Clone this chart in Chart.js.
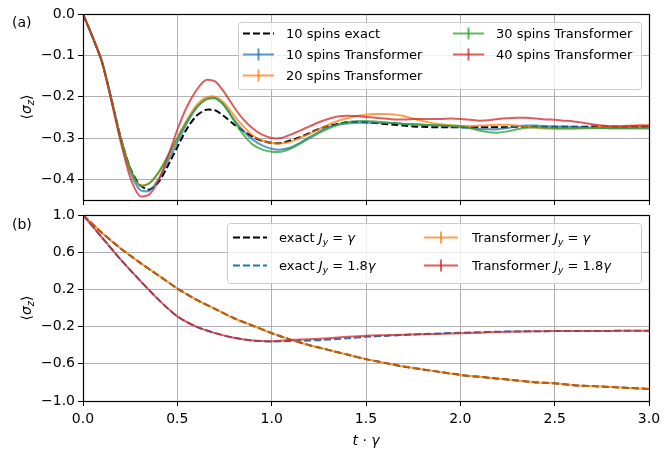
<!DOCTYPE html>
<html>
<head>
<meta charset="utf-8">
<script src="https://cdn.jsdelivr.net/npm/chart.js@4.4.1/dist/chart.umd.min.js"></script>
<style>
  body { margin: 0; background: #fff; }
  #wrap { position: relative; width: 671px; height: 452px; }
  canvas { position: absolute; left: 0; }
</style>
</head>
<body>
<div id="wrap">
  <canvas id="chartA" width="671" height="205" style="top:0px"></canvas>
  <canvas id="chartB" width="671" height="247" style="top:205px"></canvas>
</div>
<script>
// ---- données ----
const timesA = [0, 0.05, 0.1, 0.15, 0.2, 0.25, 0.3, 0.35, 0.4, 0.45, 0.5, 0.55, 0.6, 0.65, 0.7, 0.75, 0.8, 0.85, 0.9, 0.95,
  1.0, 1.05, 1.1, 1.15, 1.2, 1.25, 1.3, 1.35, 1.4, 1.45, 1.5, 1.55, 1.6, 1.65, 1.7, 1.75, 1.8, 1.85, 1.9, 1.95,
  2.0, 2.05, 2.1, 2.15, 2.2, 2.25, 2.3, 2.35, 2.4, 2.45, 2.5, 2.55, 2.6, 2.65, 2.7, 2.75, 2.8, 2.85, 2.9, 2.95, 3.0];

const exact10 = [0, -0.055, -0.115, -0.205, -0.30, -0.373, -0.413, -0.425, -0.407, -0.367, -0.322, -0.278, -0.247, -0.232, -0.233, -0.248, -0.267, -0.283, -0.297, -0.307,
  -0.312, -0.312, -0.306, -0.298, -0.288, -0.278, -0.271, -0.266, -0.262, -0.261, -0.262, -0.264, -0.266, -0.268, -0.270, -0.272, -0.273, -0.274, -0.274, -0.274,
  -0.274, -0.274, -0.274, -0.274, -0.274, -0.274, -0.273, -0.273, -0.273, -0.273, -0.273, -0.273, -0.273, -0.273, -0.272, -0.272, -0.272, -0.272, -0.272, -0.272, -0.272];

const trans10 = [0, -0.055, -0.115, -0.205, -0.302, -0.38, -0.425, -0.428, -0.400, -0.357, -0.310, -0.265, -0.228, -0.206, -0.203, -0.222, -0.255, -0.283, -0.304, -0.318,
  -0.326, -0.328, -0.323, -0.312, -0.298, -0.285, -0.274, -0.268, -0.265, -0.263, -0.263, -0.263, -0.264, -0.264, -0.266, -0.267, -0.268, -0.269, -0.270, -0.272,
  -0.274, -0.276, -0.278, -0.279, -0.279, -0.276, -0.272, -0.270, -0.270, -0.271, -0.272, -0.272, -0.273, -0.274, -0.275, -0.276, -0.276, -0.276, -0.276, -0.275, -0.275];

const trans20 = [0, -0.055, -0.115, -0.205, -0.300, -0.375, -0.414, -0.410, -0.385, -0.345, -0.300, -0.257, -0.222, -0.202, -0.200, -0.216, -0.245, -0.272, -0.294, -0.306,
  -0.312, -0.313, -0.309, -0.300, -0.290, -0.279, -0.268, -0.259, -0.252, -0.247, -0.244, -0.242, -0.242, -0.243, -0.247, -0.253, -0.259, -0.264, -0.267, -0.270,
  -0.271, -0.271, -0.270, -0.269, -0.268, -0.268, -0.270, -0.273, -0.275, -0.277, -0.278, -0.278, -0.278, -0.277, -0.275, -0.273, -0.272, -0.271, -0.270, -0.270, -0.270];

const trans30 = [0, -0.055, -0.115, -0.205, -0.300, -0.373, -0.415, -0.410, -0.383, -0.343, -0.300, -0.260, -0.227, -0.208, -0.204, -0.222, -0.258, -0.292, -0.316, -0.328,
  -0.333, -0.333, -0.326, -0.314, -0.301, -0.288, -0.277, -0.268, -0.262, -0.259, -0.259, -0.260, -0.262, -0.264, -0.266, -0.267, -0.268, -0.269, -0.270, -0.270,
  -0.271, -0.276, -0.282, -0.286, -0.287, -0.284, -0.279, -0.275, -0.274, -0.275, -0.276, -0.276, -0.276, -0.276, -0.276, -0.276, -0.277, -0.277, -0.277, -0.277, -0.277];

const trans40 = [0, -0.055, -0.115, -0.21, -0.31, -0.395, -0.44, -0.437, -0.403, -0.345, -0.280, -0.225, -0.185, -0.160, -0.163, -0.19, -0.225, -0.255, -0.277, -0.292,
  -0.300, -0.300, -0.292, -0.282, -0.272, -0.262, -0.254, -0.248, -0.246, -0.247, -0.249, -0.251, -0.253, -0.255, -0.255, -0.254, -0.254, -0.254, -0.254, -0.253,
  -0.254, -0.256, -0.258, -0.257, -0.254, -0.252, -0.251, -0.251, -0.253, -0.255, -0.256, -0.258, -0.260, -0.263, -0.267, -0.270, -0.272, -0.272, -0.271, -0.270, -0.270];

const timesB = [0, 0.1, 0.2, 0.3, 0.4, 0.5, 0.6, 0.7, 0.8, 0.9, 1.0, 1.1, 1.2, 1.3, 1.4, 1.5, 1.6, 1.7, 1.8, 1.9,
  2.0, 2.1, 2.2, 2.3, 2.4, 2.5, 2.6, 2.7, 2.8, 2.9, 3.0];

const exactG = [1.00, 0.81, 0.64, 0.49, 0.35, 0.21, 0.09, -0.01, -0.11, -0.19, -0.27, -0.34, -0.40, -0.45, -0.50, -0.55, -0.59, -0.63, -0.66, -0.69,
  -0.72, -0.74, -0.76, -0.78, -0.80, -0.81, -0.83, -0.84, -0.85, -0.86, -0.87];
const exact18G = [1.00, 0.76, 0.52, 0.30, 0.09, -0.09, -0.20, -0.27, -0.32, -0.35, -0.36, -0.355, -0.35, -0.34, -0.325, -0.31, -0.30, -0.29, -0.28, -0.273,
  -0.266, -0.26, -0.255, -0.252, -0.25, -0.248, -0.247, -0.246, -0.246, -0.245, -0.245];
const transG = [1.00, 0.81, 0.64, 0.49, 0.35, 0.21, 0.09, -0.01, -0.11, -0.19, -0.27, -0.34, -0.40, -0.45, -0.50, -0.55, -0.59, -0.63, -0.66, -0.69,
  -0.72, -0.74, -0.76, -0.78, -0.80, -0.81, -0.83, -0.84, -0.85, -0.86, -0.87];
const trans18G = [1.00, 0.76, 0.52, 0.30, 0.09, -0.09, -0.20, -0.27, -0.32, -0.35, -0.358, -0.345, -0.335, -0.325, -0.31, -0.298, -0.293, -0.288, -0.283, -0.278,
  -0.272, -0.265, -0.258, -0.253, -0.25, -0.248, -0.247, -0.246, -0.246, -0.245, -0.245];

const xTicks = [0, 0.5, 1.0, 1.5, 2.0, 2.5, 3.0];
const yTicksA = [0, -0.1, -0.2, -0.3, -0.4];
const yTicksB = [1.0, 0.6, 0.2, -0.2, -0.6, -1.0];

// ---- style ----
const FONT = '"DejaVu Sans", sans-serif';
const TICK_SIZE = 14;
const LEG_SIZE = 13;
const GRID = '#b0b0b0';

const fmt = v => { const s = Math.abs(v) < 1e-9 ? '0.0' : v.toFixed(1); return s.replace('-', '\u2212'); };
const pts = (xs, ys) => xs.map((t, i) => ({ x: t, y: ys[i] }));

function fontFor(p, size) {
  return (p.i ? 'italic ' : '') + (p.sub ? size * 0.7 : size) + 'px ' + FONT;
}
function drawRich(ctx, parts, x, y, size, align) {
  let w = 0;
  parts.forEach(p => { ctx.font = fontFor(p, size); w += ctx.measureText(p.t).width; });
  let cx = align === 'center' ? x - w / 2 : x;
  ctx.textAlign = 'left';
  ctx.textBaseline = 'alphabetic';
  parts.forEach(p => {
    ctx.font = fontFor(p, size);
    ctx.fillText(p.t, cx, y + (p.sub ? size * 0.22 : 0));
    cx += ctx.measureText(p.t).width;
  });
}
function drawHandle(ctx, x0, x1, y, ds) {
  ctx.save();
  ctx.strokeStyle = ds.borderColor;
  ctx.lineWidth = ds.borderWidth;
  ctx.setLineDash(ds.borderDash || []);
  ctx.beginPath(); ctx.moveTo(x0, y); ctx.lineTo(x1, y); ctx.stroke();
  if (ds.errorCap) {
    const xm = (x0 + x1) / 2;
    ctx.setLineDash([]);
    ctx.beginPath(); ctx.moveTo(xm, y - 6); ctx.lineTo(xm, y + 6); ctx.stroke();
  }
  ctx.restore();
}

const sigmaZ = [{ t: '\u27e8' }, { t: '\u03c3', i: 1 }, { t: 'z', i: 1, sub: 1 }, { t: '\u27e9' }];

// cadre, légende, titres
const decor = {
  id: 'decor',
  afterDraw(chart, args, o) {
    const ctx = chart.ctx;
    const a = chart.chartArea;
    ctx.save();
    ctx.strokeStyle = '#000';
    ctx.lineWidth = 1.2;
    ctx.strokeRect(Math.round(a.left) + 0.5, Math.round(a.top) + 0.5, Math.round(a.right - a.left), Math.round(a.bottom - a.top));

    // légende
    const b = o.box;
    ctx.lineWidth = 1;
    ctx.fillStyle = 'rgba(255,255,255,0.8)';
    ctx.strokeStyle = '#cccccc';
    ctx.beginPath();
    ctx.roundRect(b[0] + 0.5, b[1] + 0.5, b[2], b[3], 3);
    ctx.fill(); ctx.stroke();
    o.items.forEach(it => {
      const ds = chart.data.datasets[it.ds];
      const y = o.rows[it.row];
      drawHandle(ctx, o.handleX[it.col], o.handleX[it.col] + o.handleLen, y, ds);
      ctx.fillStyle = '#000';
      const parts = ds.rich || [{ t: ds.label }];
      drawRich(ctx, parts, o.textX[it.col], y + LEG_SIZE * 0.36, LEG_SIZE, 'left');
    });

    // étiquette du panneau
    ctx.fillStyle = '#000';
    drawRich(ctx, [{ t: o.panel }], 12, o.panelY, TICK_SIZE, 'left');

    // titre de l'axe y
    ctx.save();
    ctx.translate(26, (a.top + a.bottom) / 2);
    ctx.rotate(-Math.PI / 2);
    drawRich(ctx, sigmaZ, 0, 5, TICK_SIZE, 'center');
    ctx.restore();

    if (o.xTitle) {
      drawRich(ctx, o.xTitle, (a.left + a.right) / 2, a.bottom + 44, TICK_SIZE, 'center');
    }
    ctx.restore();
  }
};

function scalesFor(yMin, yMax, yTicks, showX, xHeight) {
  return {
    x: {
      type: 'linear', min: 0, max: 3,
      afterBuildTicks: s => { s.ticks = xTicks.map(v => ({ value: v })); },
      afterFit: s => { s.height = xHeight; },
      grid: { color: GRID, lineWidth: 1, tickColor: '#000', tickLength: 5 },
      border: { display: false },
      ticks: { display: showX, maxRotation: 0, padding: 5, color: '#000', font: { family: FONT, size: TICK_SIZE }, callback: v => v.toFixed(1) }
    },
    y: {
      min: yMin, max: yMax,
      afterBuildTicks: s => { s.ticks = yTicks.map(v => ({ value: v })); },
      afterFit: s => { s.width = 83; s.paddingTop = 0; s.paddingBottom = 0; },
      grid: { color: GRID, lineWidth: 1, tickColor: '#000', tickLength: 5 },
      border: { display: false },
      ticks: { padding: 3, color: '#000', font: { family: FONT, size: TICK_SIZE }, callback: v => fmt(v) }
    }
  };
}

const baseOpts = {
  responsive: false,
  animation: false,
  devicePixelRatio: 1,
  elements: { point: { radius: 0 }, line: { tension: 0.25, borderCapStyle: 'butt' } },
  plugins: { legend: { display: false }, tooltip: { enabled: false } }
};

// ---- panneau (a) ----
new Chart(document.getElementById('chartA'), {
  type: 'line',
  data: {
    datasets: [
      { label: '10 spins exact', data: pts(timesA, exact10), borderColor: '#000', borderWidth: 2, borderDash: [7, 3], order: 5 },
      { label: '10 spins Transformer', data: pts(timesA, trans10), borderColor: 'rgba(31,119,180,0.75)', borderWidth: 2, errorCap: true, order: 4 },
      { label: '20 spins Transformer', data: pts(timesA, trans20), borderColor: 'rgba(255,127,14,0.75)', borderWidth: 2, errorCap: true, order: 3 },
      { label: '30 spins Transformer', data: pts(timesA, trans30), borderColor: 'rgba(44,160,44,0.75)', borderWidth: 2, errorCap: true, order: 2 },
      { label: '40 spins Transformer', data: pts(timesA, trans40), borderColor: 'rgba(214,39,40,0.75)', borderWidth: 2, errorCap: true, order: 1 }
    ]
  },
  options: {
    ...baseOpts,
    layout: { padding: { left: 0, right: 22, top: 14, bottom: 0 } },
    scales: scalesFor(-0.45, 0, yTicksA, false, 5),
    plugins: {
      ...baseOpts.plugins,
      decor: {
        box: [238, 22, 403, 67], rows: [33.5, 54.5, 75.5],
        handleX: [243, 453], handleLen: 31, textX: [286, 496],
        items: [{ ds: 0, col: 0, row: 0 }, { ds: 1, col: 0, row: 1 }, { ds: 2, col: 0, row: 2 }, { ds: 3, col: 1, row: 0 }, { ds: 4, col: 1, row: 1 }],
        panel: '(a)', panelY: 27
      }
    }
  },
  plugins: [decor]
});

// ---- panneau (b) ----
const jyG = [{ t: 'J', i: 1 }, { t: 'y', i: 1, sub: 1 }, { t: ' = ' }, { t: '\u03b3', i: 1 }];
const jy18 = [{ t: 'J', i: 1 }, { t: 'y', i: 1, sub: 1 }, { t: ' = 1.8' }, { t: '\u03b3', i: 1 }];

new Chart(document.getElementById('chartB'), {
  type: 'line',
  data: {
    datasets: [
      { label: 'exact Jy = \u03b3', rich: [{ t: 'exact ' }, ...jyG], data: pts(timesB, exactG), borderColor: '#000', borderWidth: 2, borderDash: [7, 3], order: 4 },
      { label: 'exact Jy = 1.8\u03b3', rich: [{ t: 'exact ' }, ...jy18], data: pts(timesB, exact18G), borderColor: '#1f77b4', borderWidth: 2, borderDash: [7, 3], order: 3 },
      { label: 'Transformer Jy = \u03b3', rich: [{ t: 'Transformer ' }, ...jyG], data: pts(timesB, transG), borderColor: 'rgba(255,127,14,0.75)', borderWidth: 2, errorCap: true, order: 2 },
      { label: 'Transformer Jy = 1.8\u03b3', rich: [{ t: 'Transformer ' }, ...jy18], data: pts(timesB, trans18G), borderColor: 'rgba(214,39,40,0.75)', borderWidth: 2, errorCap: true, order: 1 }
    ]
  },
  options: {
    ...baseOpts,
    layout: { padding: { left: 0, right: 22, top: 10, bottom: 0 } },
    scales: scalesFor(-1, 1, yTicksB, true, 51),
    plugins: {
      ...baseOpts.plugins,
      decor: {
        box: [227, 18, 414, 60], rows: [32.5, 60.5],
        handleX: [233, 424], handleLen: 34, textX: [279, 472],
        items: [{ ds: 0, col: 0, row: 0 }, { ds: 1, col: 0, row: 1 }, { ds: 2, col: 1, row: 0 }, { ds: 3, col: 1, row: 1 }],
        panel: '(b)', panelY: 24,
        xTitle: [{ t: 't', i: 1 }, { t: ' \u00b7 ' }, { t: '\u03b3', i: 1 }]
      }
    }
  },
  plugins: [decor]
});
</script>
</body>
</html>
